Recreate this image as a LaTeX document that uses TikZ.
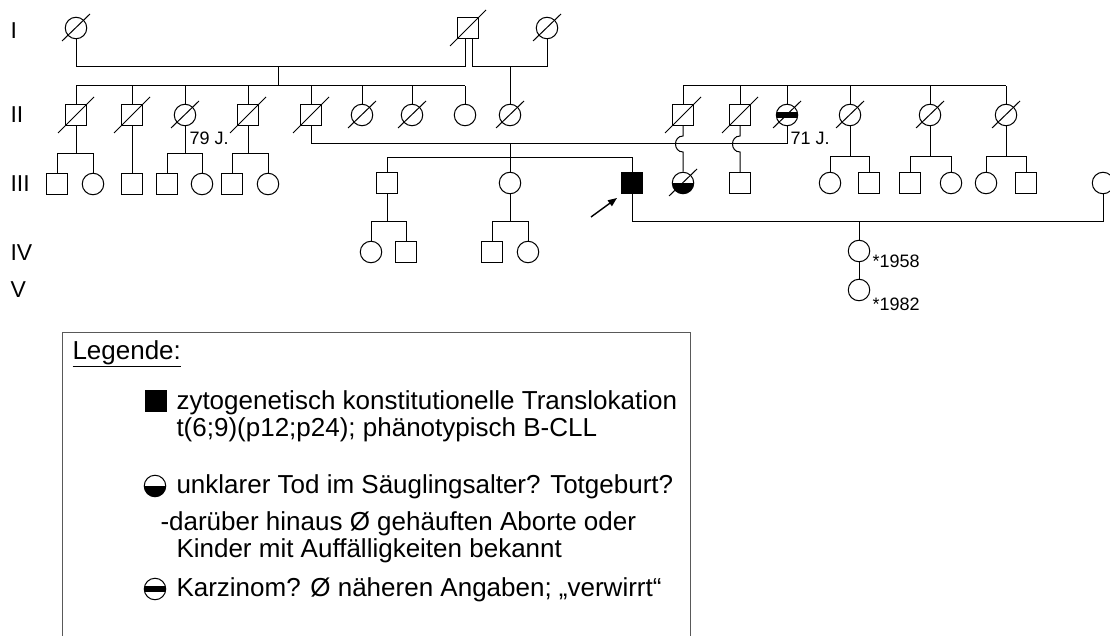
\documentclass[tikz,border=0pt]{standalone}
\usepackage{fontspec}
\setmainfont{Liberation Sans}
\usetikzlibrary{arrows.meta}
\tikzset{
  pedm/.style={draw, rectangle, minimum size=21pt, inner sep=0pt, fill=white},
  pedf/.style={draw, circle, minimum size=21.5pt, inner sep=0pt, fill=white},
  affm/.style={pedm, fill=black},
  halff/.style={pedf, path picture={\fill[black] (path picture bounding box.west) rectangle (path picture bounding box.south east);}},
  karzf/.style={pedf, path picture={\fill[black] ([yshift=-2.6pt]path picture bounding box.west) rectangle ([yshift=2.6pt]path picture bounding box.east);}},
  genlabel/.style={anchor=west, inner sep=0pt, font=\fontsize{23}{25}\selectfont},
  smalllabel/.style={anchor=base west, inner sep=0pt, font=\fontsize{18}{20}\selectfont},
  legtext/.style={anchor=base west, inner sep=0pt, font=\fontsize{26}{28}\selectfont},
  legbox/.style={draw=black!65, line width=1pt},
}
\newcommand\slashsq[1]{\draw ([shift={(-18,18)}]#1.center) -- ([shift={(18,-18)}]#1.center);}
\newcommand\slashci[1]{\draw ([shift={(-14,13)}]#1.center) -- ([shift={(14,-14)}]#1.center);}
\begin{document}
\begin{tikzpicture}[x=1pt,y=-1pt,line width=1pt]
\useasboundingbox (0,0) rectangle (1110,636);
\clip (0,0) rectangle (1110,636);

% generation labels
\node[genlabel] (gI) at (10,31) {I};
\node[genlabel] (gII) at (10,115) {II};
\node[genlabel] (gIII) at (10,184) {III};
\node[genlabel] (gIV) at (10,253) {IV};
\node[genlabel] (gV) at (10,290) {V};

% generation I
\node[pedf] (I1) at (76,28) {};
\node[pedm] (I2) at (468,28) {};
\node[pedf] (I3) at (547,28) {};

% generation II
\node[pedm] (A1) at (76,115) {};
\node[pedm] (A2) at (132,115) {};
\node[pedf] (A3) at (185,115) {};
\node[pedm] (A4) at (248,115) {};
\node[pedm] (A5) at (311,115) {};
\node[pedf] (A6) at (362,115) {};
\node[pedf] (A7) at (412,115) {};
\node[pedf] (A8) at (465,115) {};
\node[pedf] (B1) at (510,115) {};
\node[pedm] (C1) at (683,115) {};
\node[pedm] (C2) at (740,115) {};
\node[karzf] (C3) at (787,115) {};
\node[pedf] (C4) at (850,115) {};
\node[pedf] (C5) at (930,115) {};
\node[pedf] (C6) at (1006,115) {};

% generation III
\node[pedm] (D1) at (57,184) {};
\node[pedf] (D2) at (93,184) {};
\node[pedm] (D3) at (132,184) {};
\node[pedm] (D4) at (167,184) {};
\node[pedf] (D5) at (202,184) {};
\node[pedm] (D6) at (232,184) {};
\node[pedf] (D7) at (268,184) {};
\node[pedm] (E1) at (387,183) {};
\node[pedf] (E2) at (510,183) {};
\node[affm] (E3) at (632,183) {};
\node[halff] (F1) at (683,183) {};
\node[pedm] (F2) at (740,183) {};
\node[pedf] (F3) at (830,183) {};
\node[pedm] (F4) at (869,183) {};
\node[pedm] (F5) at (910,183) {};
\node[pedf] (F6) at (951,183) {};
\node[pedf] (F7) at (986,183) {};
\node[pedm] (F8) at (1026,183) {};
\node[pedf] (H1) at (1103,183) {};

% generation IV / V
\node[pedf] (G1) at (371,252) {};
\node[pedm] (G2) at (406,252) {};
\node[pedm] (G3) at (492,252) {};
\node[pedf] (G4) at (528,252) {};
\node[pedf] (G5) at (859,251) {};
\node[pedf] (G6) at (859,290) {};

% deceased slashes
\slashci{I1} \slashsq{I2} \slashci{I3}
\slashsq{A1} \slashsq{A2} \slashci{A3} \slashsq{A4} \slashsq{A5}
\slashci{A6} \slashci{A7} \slashci{B1}
\slashsq{C1} \slashsq{C2} \slashci{C3} \slashci{C4} \slashci{C5} \slashci{C6}
\slashci{F1}

% generation I marriages
\coordinate (mA) at (465,67);
\coordinate (mB) at (472,67);
\draw (I1) -- (I1 |- mA) -- (mA) -- (mA |- I2.south);
\draw (mB |- I2.south) -- (mB) -- (I3 |- mB) -- (I3);
\coordinate (dA) at (278,67);
\coordinate (s1) at (278,86);
\draw (dA) -- (s1);
\draw (A1 |- s1) -- (A8 |- s1);
\foreach \n in {1,...,8} \draw (A\n) -- (A\n |- s1);
\draw (B1) -- (B1 |- mB);

% right sibship generation II
\coordinate (s2) at (683,86);
\draw (C1 |- s2) -- (C6 |- s2);
\foreach \n in {1,...,6} \draw (C\n) -- (C\n |- s2);

% generation III left
\coordinate (s3) at (76,154);
\draw (A1) -- (s3);
\draw (D1) -- (D1 |- s3) -- (D2 |- s3) -- (D2);
\draw (A2) -- (D3);
\coordinate (s4) at (185,154);
\draw (A3) -- (s4);
\draw (D4) -- (D4 |- s4) -- (D5 |- s4) -- (D5);
\coordinate (s5) at (248,154);
\draw (A4) -- (s5);
\draw (D6) -- (D6 |- s5) -- (D7 |- s5) -- (D7);
\node[smalllabel] (age79) at (189,145) {79 J.};

% marriage A5 x C3
\coordinate (m2) at (510,144);
\draw (A5) -- (A5 |- m2) -- (C3 |- m2) -- (C3);
\node[smalllabel] (age71) at (790,145) {71 J.};
\coordinate (s6) at (510,158);
\draw (m2) -- (s6);
\draw (E1) -- (E1 |- s6) -- (E3 |- s6) -- (E3);
\draw (E2) -- (E2 |- s6);

% hop-overs
\draw (C1) -- (C1 |- 0,136) .. controls +(-10,0) and +(-10,0) .. (C1 |- 0,152) -- (F1);
\draw (C2) -- (C2 |- 0,136) .. controls +(-10,0) and +(-10,0) .. (C2 |- 0,152) -- (F2);

% generation III right
\coordinate (s9) at (850,157);
\draw (C4) -- (s9);
\draw (F3) -- (F3 |- s9) -- (F4 |- s9) -- (F4);
\coordinate (s10) at (930,157);
\draw (C5) -- (s10);
\draw (F5) -- (F5 |- s10) -- (F6 |- s10) -- (F6);
\coordinate (s11) at (1006,157);
\draw (C6) -- (s11);
\draw (F7) -- (F7 |- s11) -- (F8 |- s11) -- (F8);

% proband arrow
\coordinate (arT) at (591,217);
\draw[-{Triangle[length=9pt,width=7pt]}, line width=1.4pt] (arT) -- ([shift={(-4,4)}]E3.south west);

% generation IV
\coordinate (s7) at (387,222);
\draw (E1) -- (s7);
\draw (G1) -- (G1 |- s7) -- (G2 |- s7) -- (G2);
\coordinate (s8) at (510,222);
\draw (E2) -- (s8);
\draw (G3) -- (G3 |- s8) -- (G4 |- s8) -- (G4);
\coordinate (m3) at (859,222);
\draw (E3) -- (E3 |- m3) -- (H1 |- m3) -- (H1);
\draw (m3) -- (G5);
\draw (G5) -- (G6);
\node[smalllabel] (b58) at (872,268) {*1958};
\node[smalllabel] (b82) at (872,310) {*1982};

% legend
\draw[legbox] (62,640) -- (62,332) -- (690,332) -- (690,640);
\node[legtext] (legT) at (72,359) {\underline{Legende:}};
\node[affm] (L1) at (156,401) {};
\node[legtext] (lt1) at (176,409) {zytogenetisch konstitutionelle Translokation};
\node[legtext] (lt2) at (176,436) {t(6;9)(p12;p24); phänotypisch B-CLL};
\node[halff] (L2) at (155,486) {};
\node[legtext] (lt3) at (176,493) {unklarer Tod im Säuglingsalter? Totgeburt?};
\node[legtext] (lt4) at (160,530) {-darüber hinaus Ø gehäuften Aborte oder};
\node[legtext] (lt5) at (176,557) {Kinder mit Auffälligkeiten bekannt};
\node[karzf] (L3) at (155,589) {};
\node[legtext] (lt6) at (176,596) {Karzinom? Ø näheren Angaben; „verwirrt“};
\end{tikzpicture}
\end{document}
